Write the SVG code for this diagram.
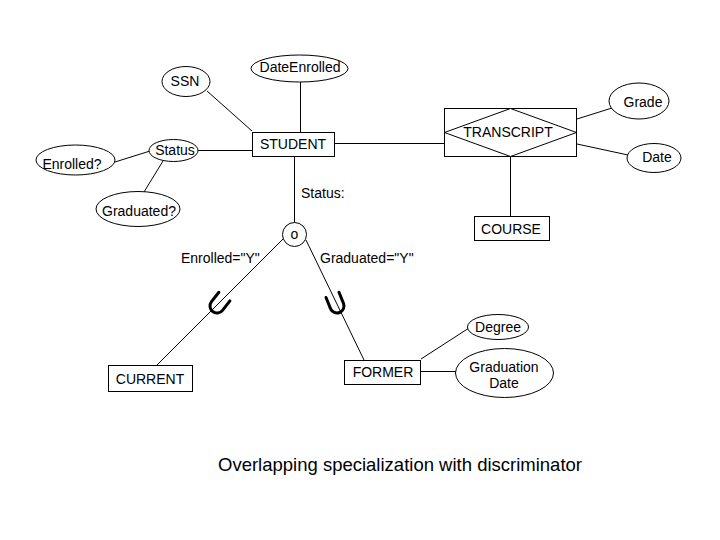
<svg xmlns="http://www.w3.org/2000/svg" width="720" height="540" viewBox="0 0 720 540">
<style>
  .shape { fill: #ffffff; stroke: #000000; stroke-width: 1; }
  .line { fill: none; stroke: #000000; stroke-width: 1; }
  .cup { fill: none; stroke: #000000; stroke-width: 3; stroke-linecap: round; stroke-linejoin: round; }
  text { font-family: "Liberation Sans", Arial, sans-serif; font-size: 14px; fill: #000000; }
  .c { text-anchor: middle; }
  .title { font-size: 18.5px; }
</style>
<defs>
  <path id="cupShape" d="M -7 -12 L -7 0 A 7 7 0 0 0 7 0 L 7 -12"/>
</defs>
<rect width="720" height="540" fill="#ffffff"/>
<g id="connectors">
  <line class="line" x1="207" y1="91" x2="252" y2="131"/>
  <line class="line" x1="300.5" y1="82" x2="300.5" y2="132"/>
  <line class="line" x1="198" y1="150.5" x2="252" y2="150.5"/>
  <line class="line" x1="115" y1="162" x2="150" y2="151"/>
  <line class="line" x1="163" y1="161" x2="144" y2="192"/>
  <line class="line" x1="334" y1="143.5" x2="444" y2="143.5"/>
  <line class="line" x1="577" y1="119" x2="612" y2="108"/>
  <line class="line" x1="577" y1="144" x2="628" y2="155"/>
  <line class="line" x1="510.5" y1="156" x2="510.5" y2="216"/>
  <line class="line" x1="294.5" y1="157" x2="294.5" y2="222.5"/>
  <line class="line" x1="283" y1="239" x2="157" y2="365"/>
  <line class="line" x1="306" y1="240" x2="364" y2="360"/>
  <line class="line" x1="421" y1="359" x2="469" y2="328"/>
  <line class="line" x1="421" y1="371.5" x2="456" y2="371.5"/>
  <use href="#cupShape" class="cup" transform="translate(217 306) rotate(38)"/>
  <use href="#cupShape" class="cup" transform="translate(337 306) rotate(-22)"/>
  <text x="181" y="263">Enrolled="Y"</text>
  <text x="320" y="263">Graduated="Y"</text>
  <text x="301" y="198">Status:</text>
</g>
<g id="SSN">
  <ellipse class="shape" cx="186" cy="81.5" rx="24" ry="15"/>
  <text class="c" x="185" y="85.5">SSN</text>
</g>
<g id="DateEnrolled">
  <ellipse class="shape" cx="299.5" cy="68.5" rx="48.5" ry="13.5"/>
  <text class="c" x="300" y="72">DateEnrolled</text>
</g>
<g id="STUDENT">
  <rect class="shape" x="252.5" y="132.5" width="82" height="24"/>
  <text class="c" x="293" y="149">STUDENT</text>
</g>
<g id="Status">
  <ellipse class="shape" cx="173.5" cy="150.5" rx="24.5" ry="11"/>
  <text class="c" x="175" y="155">Status</text>
</g>
<g id="Enrolled">
  <ellipse class="shape" cx="75.5" cy="160" rx="39.5" ry="15"/>
  <text class="c" x="72" y="169">Enrolled?</text>
</g>
<g id="Graduated">
  <ellipse class="shape" cx="138" cy="209" rx="42" ry="17.5"/>
  <text class="c" x="139" y="216">Graduated?</text>
</g>
<g id="TRANSCRIPT">
  <rect class="shape" x="444.5" y="108.5" width="132" height="48"/>
  <polygon class="shape" points="510.5,108.5 576.5,132.5 510.5,156.5 444.5,132.5"/>
  <text class="c" x="508" y="137">TRANSCRIPT</text>
</g>
<g id="Grade">
  <ellipse class="shape" cx="639" cy="101" rx="30" ry="18"/>
  <text class="c" x="643" y="106.5">Grade</text>
</g>
<g id="Date">
  <ellipse class="shape" cx="654" cy="158" rx="27" ry="14.5"/>
  <text class="c" x="657" y="161.5">Date</text>
</g>
<g id="COURSE">
  <rect class="shape" x="474.5" y="216.5" width="75" height="24"/>
  <text class="c" x="511" y="234">COURSE</text>
</g>
<g id="overlap">
  <circle class="shape" cx="294.5" cy="234.5" r="12"/>
  <text class="c" x="294.5" y="239">o</text>
</g>
<g id="CURRENT">
  <rect class="shape" x="108.5" y="365.5" width="84" height="26"/>
  <text class="c" x="150" y="384">CURRENT</text>
</g>
<g id="FORMER">
  <rect class="shape" x="344.5" y="360.5" width="76" height="24"/>
  <text class="c" x="383" y="377">FORMER</text>
</g>
<g id="Degree">
  <ellipse class="shape" cx="498" cy="327" rx="30.5" ry="12.5"/>
  <text class="c" x="498" y="332">Degree</text>
</g>
<g id="GraduationDate">
  <ellipse class="shape" cx="504.5" cy="373" rx="49" ry="24.5"/>
  <text class="c" x="504" y="371.5">Graduation</text>
  <text class="c" x="504" y="388">Date</text>
</g>
<g id="caption">
  <text class="title c" x="400" y="470.5">Overlapping specialization with discriminator</text>
</g>
</svg>
